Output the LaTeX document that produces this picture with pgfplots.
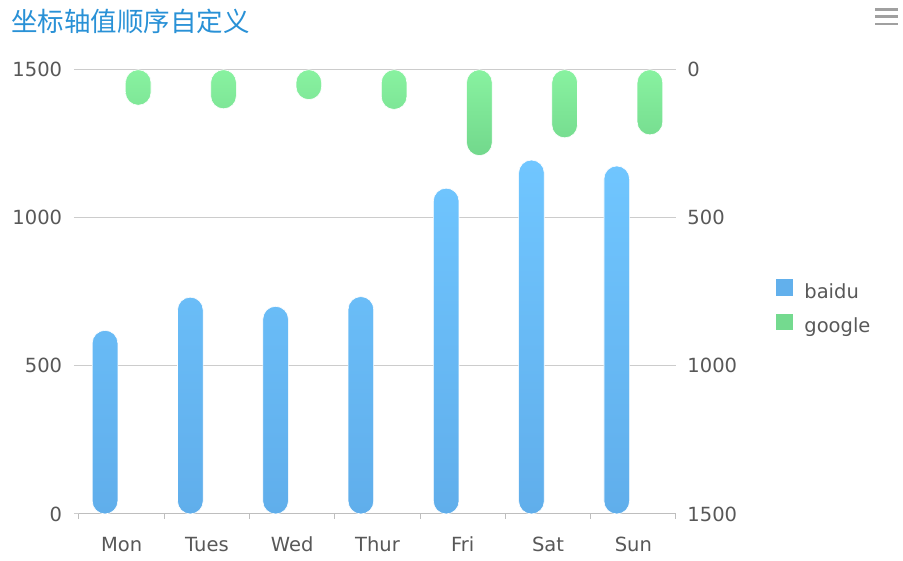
\documentclass[border=0pt]{standalone}
\usepackage{fontspec}
\setmainfont{DejaVu Sans}
\newfontfamily\cjk{Noto Sans CJK SC}
\usepackage{pgfplots}
\pgfplotsset{compat=1.18}
\usepackage{pgfplotstable}
\definecolor{btop}{RGB}{112,198,255}
\definecolor{bbot}{RGB}{96,174,235}
\definecolor{gtop}{RGB}{136,242,160}
\definecolor{gbot}{RGB}{114,216,140}
\definecolor{bleg}{RGB}{98,176,236}
\definecolor{gleg}{RGB}{116,218,143}
\definecolor{gridc}{RGB}{204,204,204}
\definecolor{axisc}{RGB}{190,190,190}
\definecolor{labc}{RGB}{88,88,88}
\definecolor{titlec}{RGB}{41,145,214}
\definecolor{menuc}{RGB}{160,160,160}

\pgfplotstableread{
x baidu google
0 620 120
1 732 132
2 701 101
3 734 134
4 1100 290
5 1195 230
6 1175 220
}\datatable

\begin{document}
\begin{tikzpicture}
\path[use as bounding box] (0,0) rectangle (903pt,561pt);
\pgfplotsset{common/.style={at={(79pt,47pt)}, anchor=south west, scale only axis,
  width=597pt, height=444.3pt, xmin=-0.5, xmax=6.5, ymin=0, ymax=1500,
  ytick={0,500,1000,1500}, yticklabels={0,500,1000,1500},
  ticklabel style={font=\fontsize{19.5}{23}\selectfont, text=labc},
  tick align=outside, major tick length=5pt}}
\begin{axis}[common,
  axis x line*=bottom, axis y line*=left,
  x axis line style={draw=axisc, line width=1pt, -},
  y axis line style={draw=none},
  xtick={-0.5,0.5,...,6.5}, x tick label as interval,
  xticklabels={Mon,Tues,Wed,Thur,Fri,Sat,Sun},
  xtick style={draw=axisc, line width=1pt},
  ytick style={draw=gridc, line width=1pt},
  ymajorgrids, grid style={draw=gridc, line width=1pt},
  xticklabel style={anchor=base, inner sep=0pt, yshift=-32.7pt},
  yticklabel style={anchor=east, inner sep=0pt, xshift=-11.7pt},
]
\addplot[ybar, bar width=25.6pt, bar shift=-16.6pt, draw=white, line width=0.6pt,
  top color=btop, bottom color=bbot, rounded corners=12.8pt]
  table[x=x,y=baidu]{\datatable};
\end{axis}
\begin{axis}[common, y dir=reverse, axis x line=none, axis y line*=right,
  y axis line style={draw=none}, ytick style={draw=none},
  yticklabel style={anchor=west, inner sep=0pt, xshift=6.3pt},
  legend style={draw=none, fill=none, at={(1.167,0.4628)}, anchor=west,
    font=\fontsize{19.5}{23}\selectfont, text=labc, inner sep=0pt,
    row sep=10.3pt, nodes={inner sep=0pt, text height=15pt, text depth=5pt},
    cells={anchor=west},
    /tikz/every odd column/.append style={column sep=11.5pt}},
]
\addplot[ybar, bar width=25.6pt, bar shift=16.6pt, draw=white, line width=0.6pt,
  top color=gtop, bottom color=gbot, rounded corners=12.8pt, forget plot]
  table[x=x,y=google]{\datatable};
\addlegendimage{legend image code/.code={\fill[bleg] (0pt,-1.5pt) rectangle (16.6pt,14.1pt);}}
\addlegendentry{baidu}
\addlegendimage{legend image code/.code={\fill[gleg] (0pt,-1.5pt) rectangle (16.6pt,14.1pt);}}
\addlegendentry{google}
\end{axis}
\node[anchor=base west, inner sep=0pt, text=titlec, font=\cjk\fontsize{26.5}{30}\selectfont]
  at (11pt,529.4pt) {坐标轴值顺序自定义};
\foreach \yy in {9.3,16.3,24} {
  \draw[menuc, line width=2.5pt] (875pt,561pt-\yy pt) -- (898pt,561pt-\yy pt);
}
\end{tikzpicture}
\end{document}
